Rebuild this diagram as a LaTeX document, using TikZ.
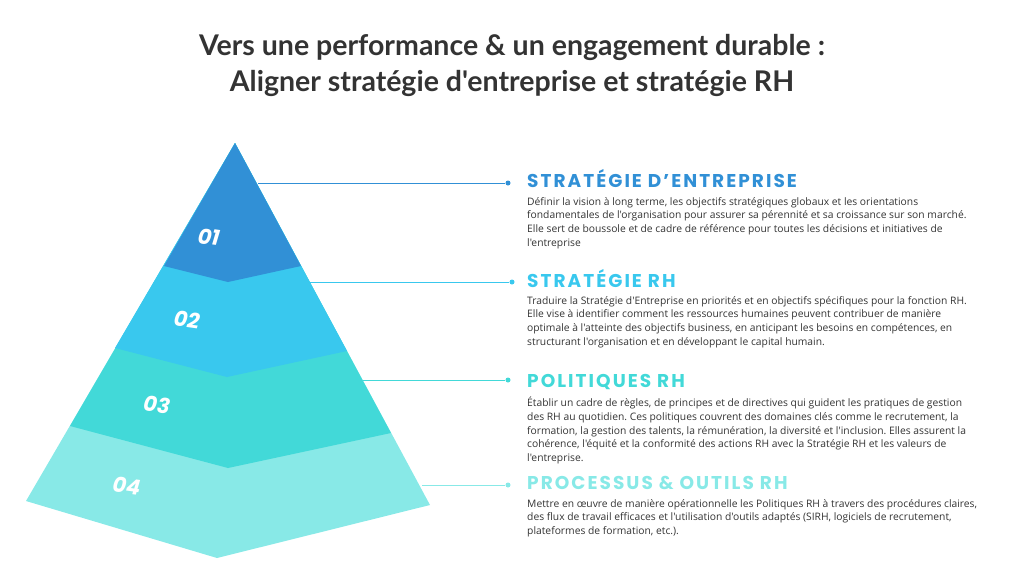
\documentclass[tikz,border=0pt]{standalone}
\usepackage{fontspec}
\usepackage{tikz}
\usetikzlibrary{positioning, calc}

\newfontfamily\titlefont{Lato}
\newfontfamily\headfont{Poppins}[LetterSpace=11]
\newfontfamily\numfont{Poppins}
\newfontfamily\bodyfont{Open Sans}
\frenchspacing

\definecolor{layerA}{RGB}{49,144,214}
\definecolor{layerB}{RGB}{57,200,238}
\definecolor{layerC}{RGB}{66,217,216}
\definecolor{layerD}{RGB}{136,233,231}
\definecolor{textgray}{RGB}{51,51,51}

\begin{document}
\begin{tikzpicture}[
      x=1pt, y=-1pt,
      num/.style={text=white, font=\numfont\bfseries\fontsize{21}{21}\selectfont, rotate=-8, xslant=0.15},
      head/.style={anchor=base west, inner sep=0, font=\headfont\bfseries\fontsize{18.5}{19}\selectfont},
      body/.style={anchor=north west, inner sep=0, align=left, text=textgray, font=\bodyfont\fontsize{10.3}{13.7}\selectfont},
      link/.style={line width=0.9pt},
      dot/.style={circle, inner sep=0, minimum size=5pt}
    ]
      \useasboundingbox (0,0) rectangle (1024,576);

      % Title
      \node[text=textgray, font=\titlefont\bfseries\fontsize{28.5}{36}\selectfont, align=center] (title) at (512,65) {Vers une performance \& un engagement durable :\\Aligner stratégie d'entreprise et stratégie RH};

      % Pyramid corner points
      \coordinate (apex) at (235,143);
      \coordinate (a_left) at (164,266); \coordinate (a_mid) at (228,282); \coordinate (a_right) at (301,266);
      \coordinate (b_left) at (115,348); \coordinate (b_mid) at (227,377); \coordinate (b_right) at (347,351);
      \coordinate (c_left) at (70,426);  \coordinate (c_mid) at (228,468); \coordinate (c_right) at (391,433);
      \coordinate (d_left) at (26,501);  \coordinate (d_mid) at (217,558); \coordinate (d_right) at (430,505);

      % Layers, bottom one first so the upper ones lie on top
      \fill[layerD] (apex) -- (d_right) -- (d_mid) -- (d_left) -- cycle;
      \fill[layerC] (apex) -- (c_right) -- (c_mid) -- (c_left) -- cycle;
      \fill[layerB] (apex) -- (b_right) -- (b_mid) -- (b_left) -- cycle;
      \fill[layerA] (apex) -- (a_right) -- (a_mid) -- (a_left) -- cycle;

      % Layer numbers
      \node[num] (num_a) at (209,237) {01};
      \node[num] (num_b) at (187,320) {02};
      \node[num] (num_c) at (157,405) {03};
      \node[num] (num_d) at (127,486) {04};

      % Points on the right edge where the connectors start
      \coordinate (edge_a) at (258,183);
      \coordinate (edge_b) at (310,282);
      \coordinate (edge_c) at (363,380);
      \coordinate (edge_d) at (422,485);

      % Dots at the text side
      \node[dot, fill=layerA] (dot_a) at (508,183) {};
      \node[dot, fill=layerB] (dot_b) at (512,282) {};
      \node[dot, fill=layerC] (dot_c) at (508,380) {};
      \node[dot, fill=layerD] (dot_d) at (508,485) {};

      % Headings
      \node[head, text=layerA] (head_a) at (527,187) {STRATÉGIE D’ENTREPRISE};
      \node[head, text=layerB] (head_b) at (527,287) {STRATÉGIE RH};
      \node[head, text=layerC] (head_c) at (527,387) {POLITIQUES RH};
      \node[head, text=layerD] (head_d) at (527,489) {PROCESSUS \& OUTILS RH};

      % Descriptions
      \node[body] (text_a) at (527,197) {Définir la vision à long terme, les objectifs stratégiques globaux et les orientations\\fondamentales de l'organisation pour assurer sa pérennité et sa croissance sur son marché.\\Elle sert de boussole et de cadre de référence pour toutes les décisions et initiatives de\\l'entreprise};
      \node[body] (text_b) at (527,296) {Traduire la Stratégie d'Entreprise en priorités et en objectifs spécifiques pour la fonction RH.\\Elle vise à identifier comment les ressources humaines peuvent contribuer de manière\\optimale à l'atteinte des objectifs business, en anticipant les besoins en compétences, en\\structurant l'organisation et en développant le capital humain.};
      \node[body] (text_c) at (527,397) {Établir un cadre de règles, de principes et de directives qui guident les pratiques de gestion\\des RH au quotidien. Ces politiques couvrent des domaines clés comme le recrutement, la\\formation, la gestion des talents, la rémunération, la diversité et l'inclusion. Elles assurent la\\cohérence, l'équité et la conformité des actions RH avec la Stratégie RH et les valeurs de\\l'entreprise.};
      \node[body] (text_d) at (527,499) {Mettre en œuvre de manière opérationnelle les Politiques RH à travers des procédures claires,\\des flux de travail efficaces et l'utilisation d'outils adaptés (SIRH, logiciels de recrutement,\\plateformes de formation, etc.).};

      % Connectors
      \draw[link, layerA] (edge_a) -- (dot_a);
      \draw[link, layerB] (edge_b) -- (dot_b);
      \draw[link, layerC] (edge_c) -- (dot_c);
      \draw[link, layerD] (edge_d) -- (dot_d);
    \end{tikzpicture}
\end{document}
